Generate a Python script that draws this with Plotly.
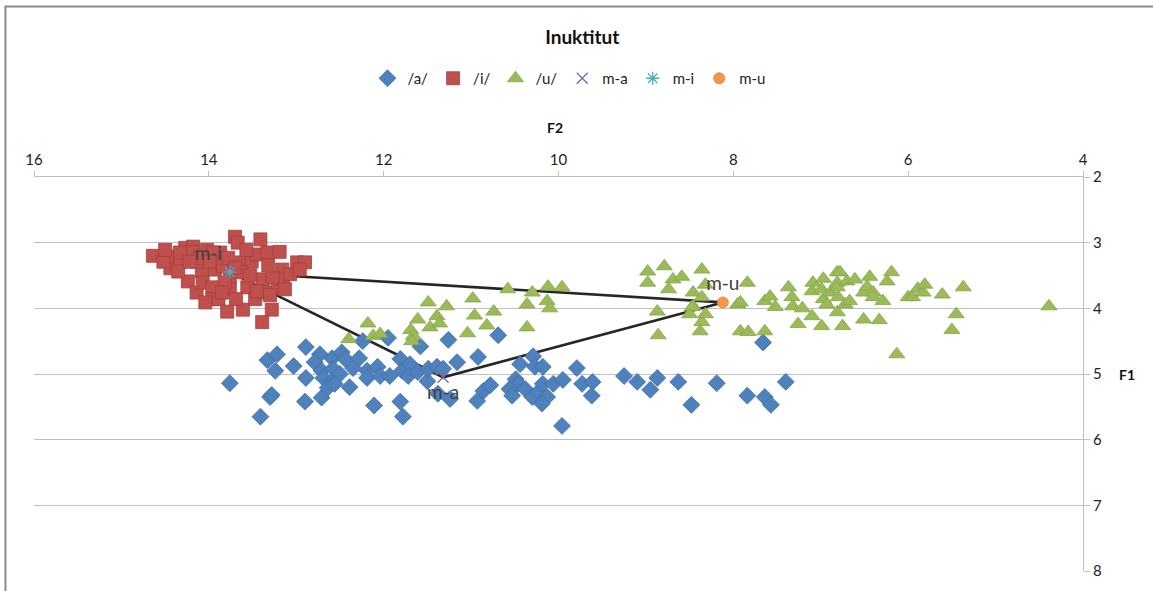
import plotly.graph_objects as go

# /a/ vowel tokens (F2, F1)
a_f2 = [13.76, 13.41, 13.33, 13.22, 13.24, 13.30, 13.28, 13.03, 12.89, 12.89, 12.90, 12.73, 12.79, 12.71,
        12.69, 12.71, 12.59, 12.58, 12.59, 12.64, 12.48, 12.44, 12.50, 12.56, 12.39, 12.35, 12.28, 12.19,
        12.19, 12.11, 12.07, 12.04, 11.93, 11.95, 12.24, 11.81, 11.79, 11.70, 11.72, 11.81, 11.78, 11.61,
        11.58, 11.50, 11.49, 11.39, 11.32, 11.38, 11.24, 11.26, 11.16, 10.92, 10.93, 10.86, 10.78, 10.69,
        10.44, 10.29, 10.27, 10.18, 10.49, 10.46, 10.56, 10.53, 10.38, 10.30, 10.23, 10.18, 10.13, 10.19,
        10.06, 9.95, 9.96, 9.79, 9.73, 9.61, 9.62, 9.25, 9.10, 8.95, 8.87, 8.63, 8.48, 8.19, 7.84, 7.64,
        7.57, 7.40, 7.66]
a_f1 = [5.14, 5.65, 4.79, 4.70, 4.95, 5.35, 5.32, 4.88, 4.59, 5.06, 5.42, 4.70, 4.82, 4.95,
        5.06, 5.36, 4.76, 4.92, 5.12, 5.21, 4.67, 4.77, 5.00, 5.15, 5.20, 4.91, 4.76, 4.95,
        5.06, 5.48, 4.89, 5.03, 5.03, 4.45, 4.50, 4.77, 4.95, 4.85, 5.03, 5.42, 5.65, 4.97,
        4.58, 5.11, 4.92, 4.89, 4.92, 5.30, 5.38, 4.48, 4.82, 4.74, 5.41, 5.26, 5.17, 4.41,
        4.85, 4.73, 4.89, 4.89, 5.08, 5.15, 5.23, 5.33, 5.23, 5.35, 5.27, 5.15, 5.35, 5.45,
        5.15, 5.09, 5.79, 4.91, 5.15, 5.12, 5.33, 5.03, 5.12, 5.24, 5.06, 5.12, 5.47, 5.14, 5.33, 5.35,
        5.47, 5.12, 4.52]

# /i/ vowel tokens
i_f2 = [14.64, 14.44, 14.42, 14.33, 14.27, 14.18, 14.19, 14.33, 14.24, 14.14, 14.08, 14.07, 14.02, 13.96,
        13.96, 13.93, 13.89, 13.87, 13.79, 13.76, 13.76, 13.70, 13.67, 13.62, 13.61, 13.56, 13.51, 13.47,
        13.45, 13.41, 13.39, 13.38, 13.36, 13.33, 13.28, 13.21, 13.19, 13.16, 13.15, 13.07, 12.99, 12.90,
        13.27, 13.64, 13.84, 14.14, 14.52, 13.95, 14.10, 13.99, 13.82, 13.69, 13.53, 13.32, 13.45, 13.57,
        13.78, 14.35, 14.04, 13.85, 13.30, 13.13, 12.96, 14.22, 14.50, 13.70]
i_f1 = [3.20, 3.39, 3.21, 3.29, 3.08, 3.06, 3.14, 3.15, 3.59, 3.76, 3.44, 3.61, 3.11, 3.68,
        3.86, 3.41, 3.86, 3.15, 4.05, 3.71, 3.52, 2.91, 3.00, 3.30, 4.02, 3.68, 3.29, 3.86,
        3.18, 2.95, 4.21, 3.56, 3.76, 3.15, 4.02, 3.68, 3.14, 3.41, 3.56, 3.48, 3.30, 3.30,
        3.53, 3.45, 3.36, 3.29, 3.29, 3.15, 3.23, 3.29, 3.61, 3.86, 3.50, 3.35, 3.74, 3.11,
        3.23, 3.44, 3.91, 3.76, 3.80, 3.71, 3.41, 3.29, 3.11, 3.38]

# /u/ vowel tokens
u_f2 = [12.40, 12.18, 12.12, 12.04, 11.69, 11.66, 11.68, 11.61, 11.49, 11.39, 11.47, 11.36, 11.28, 10.98,
        10.96, 11.04, 10.82, 10.74, 10.58, 10.36, 10.36, 10.30, 10.13, 10.10, 10.12, 9.96, 8.87, 8.86,
        8.50, 8.46, 8.36, 8.38, 8.32, 7.92, 7.83, 7.64, 7.95, 7.52, 7.32, 7.26, 8.98, 8.98, 8.79, 8.69,
        8.59, 8.74, 8.36, 8.46, 8.36, 8.47, 8.32, 7.84, 7.92, 7.64, 7.58, 7.37, 7.33, 7.21, 7.10, 7.09,
        7.10, 6.99, 6.97, 6.97, 6.93, 6.99, 6.89, 6.81, 6.78, 6.81, 6.81, 6.80, 6.81, 6.75, 6.72, 6.70,
        6.67, 6.61, 6.51, 6.51, 6.47, 6.44, 6.40, 6.40, 6.33, 6.29, 6.24, 6.19, 6.13, 6.00, 5.95, 5.89,
        5.83, 5.81, 5.61, 5.45, 5.50, 5.37, 4.39]
u_f1 = [4.47, 4.23, 4.42, 4.39, 4.33, 4.42, 4.50, 4.17, 3.91, 4.12, 4.29, 4.23, 3.97, 3.85,
        4.11, 4.38, 4.26, 4.05, 3.71, 3.94, 4.29, 3.76, 3.89, 4.00, 3.67, 3.68, 4.05, 4.41,
        4.09, 3.97, 4.21, 4.35, 4.09, 4.35, 4.36, 4.35, 3.94, 3.98, 3.97, 4.24, 3.44, 3.61, 3.36, 3.56,
        3.52, 3.71, 3.41, 3.76, 3.83, 3.98, 3.64, 3.61, 3.91, 3.89, 3.82, 3.68, 3.83, 4.00, 4.12, 3.61,
        3.74, 4.27, 3.55, 3.86, 3.94, 3.71, 3.76, 3.45, 3.45, 3.61, 3.68, 3.83, 4.06, 4.27, 3.94, 3.59,
        3.89, 3.56, 3.76, 4.17, 3.67, 3.52, 3.76, 3.83, 4.18, 3.89, 3.59, 3.45, 4.70, 3.83, 3.83, 3.70,
        3.76, 3.64, 3.79, 4.09, 4.33, 3.68, 3.97]

# vowel means
mean_names = ["m-a", "m-i", "m-u"]
mean_f2 = [11.32, 13.76, 8.12]
mean_f1 = [5.05, 3.45, 3.91]

# triangle order: m-i -> m-u -> m-a -> m-i
tri_order = [1, 2, 0, 1]

x_ticks = [16, 14, 12, 10, 8, 6, 4]
y_ticks = [2, 3, 4, 5, 6, 7, 8]

FONT = "Lato, 'Open Sans', sans-serif"
BLUE, RED, GREEN = "#4F81BD", "#C0504D", "#9BBB59"
PURPLE, CYAN, ORANGE = "#8064A2", "#4BACC6", "#F79646"

fig = go.Figure()

fig.add_trace(go.Scatter(x=[mean_f2[k] for k in tri_order], y=[mean_f1[k] for k in tri_order],
                         mode="lines", line=dict(color="#262626", width=2.6),
                         showlegend=False, hoverinfo="skip"))

fig.add_trace(go.Scatter(x=a_f2, y=a_f1, mode="markers", name="/a/",
                         marker=dict(symbol="diamond", size=13, color=BLUE,
                                     line=dict(color="#3E6DA8", width=0.8))))
fig.add_trace(go.Scatter(x=i_f2, y=i_f1, mode="markers", name="/i/",
                         marker=dict(symbol="square", size=13, color=RED,
                                     line=dict(color="#A23F3C", width=0.8))))
fig.add_trace(go.Scatter(x=u_f2, y=u_f1, mode="markers", name="/u/",
                         marker=dict(symbol="triangle-up", size=14, color=GREEN,
                                     line=dict(color="#86A448", width=0.8))))

fig.add_trace(go.Scatter(x=[mean_f2[0]], y=[mean_f1[0]], mode="markers+text", name="m-a",
                         text=[mean_names[0]], textposition="bottom center",
                         textfont=dict(size=19, color="#404040", family=FONT),
                         marker=dict(symbol="x-thin-open", size=11, color=PURPLE,
                                     line=dict(color=PURPLE, width=1.3))))
fig.add_trace(go.Scatter(x=[mean_f2[1]], y=[mean_f1[1]], mode="markers+text", name="m-i",
                         text=[mean_names[1]], textposition="top left",
                         textfont=dict(size=19, color="#404040", family=FONT),
                         marker=dict(symbol="asterisk-open", size=11, color=CYAN,
                                     line=dict(color=CYAN, width=1.3))))
fig.add_trace(go.Scatter(x=[mean_f2[2]], y=[mean_f1[2]], mode="markers+text", name="m-u",
                         text=[mean_names[2]], textposition="top center",
                         textfont=dict(size=19, color="#404040", family=FONT),
                         marker=dict(symbol="circle", size=11, color=ORANGE,
                                     line=dict(color="#E07F2E", width=0.8))))

fig.update_layout(
    width=1153, height=591,
    margin=dict(l=34, r=70, t=177, b=18),
    paper_bgcolor="white", plot_bgcolor="white",
    font=dict(family=FONT, size=15, color="#222222"),
    title=dict(text="<b>Inuktitut</b>", x=0.505, xanchor="center", y=1 - 37 / 591,
               yanchor="middle", yref="container", font=dict(size=19, color="#111111")),
    legend=dict(orientation="h", x=0.51, xanchor="center", y=1.25, yanchor="middle",
                font=dict(size=15, color="#222222"), itemwidth=30, tracegroupgap=0,
                bgcolor="rgba(0,0,0,0)"),
    xaxis=dict(side="top", range=[16, 4], tickvals=x_ticks, ticktext=[str(v) for v in x_ticks],
               showgrid=False, zeroline=False, showline=True, linecolor="#BFBFBF", linewidth=1.2,
               ticks="outside", ticklen=5, tickcolor="#BFBFBF", tickfont=dict(size=15, color="#222222")),
    yaxis=dict(side="right", range=[8, 2], tickvals=y_ticks, ticktext=[str(v) for v in y_ticks],
               showgrid=True, gridcolor="#BFBFBF", gridwidth=1, zeroline=False,
               showline=True, linecolor="#BFBFBF", linewidth=1.2,
               ticks="outside", ticklen=6, tickcolor="#BFBFBF", tickfont=dict(size=15, color="#222222")),
    annotations=[
        dict(text="<b>F2</b>", xref="paper", yref="paper", x=0.497, y=1.125, showarrow=False,
             xanchor="center", yanchor="middle", font=dict(size=14, color="#111111")),
        dict(text="<b>F1</b>", xref="paper", yref="paper", x=1.032, y=0.5, showarrow=False,
             xanchor="left", yanchor="middle", font=dict(size=14, color="#111111")),
    ],
    shapes=[dict(type="rect", xref="paper", yref="paper", x0=-0.0272, x1=1.2, y0=-0.2, y1=1.433,
                 line=dict(color="#8A8A8A", width=2), fillcolor="rgba(0,0,0,0)", layer="below")],
)

fig.write_html("out.html", config={"displayModeBar": False},
               post_script="document.body.style.margin='0px';")
